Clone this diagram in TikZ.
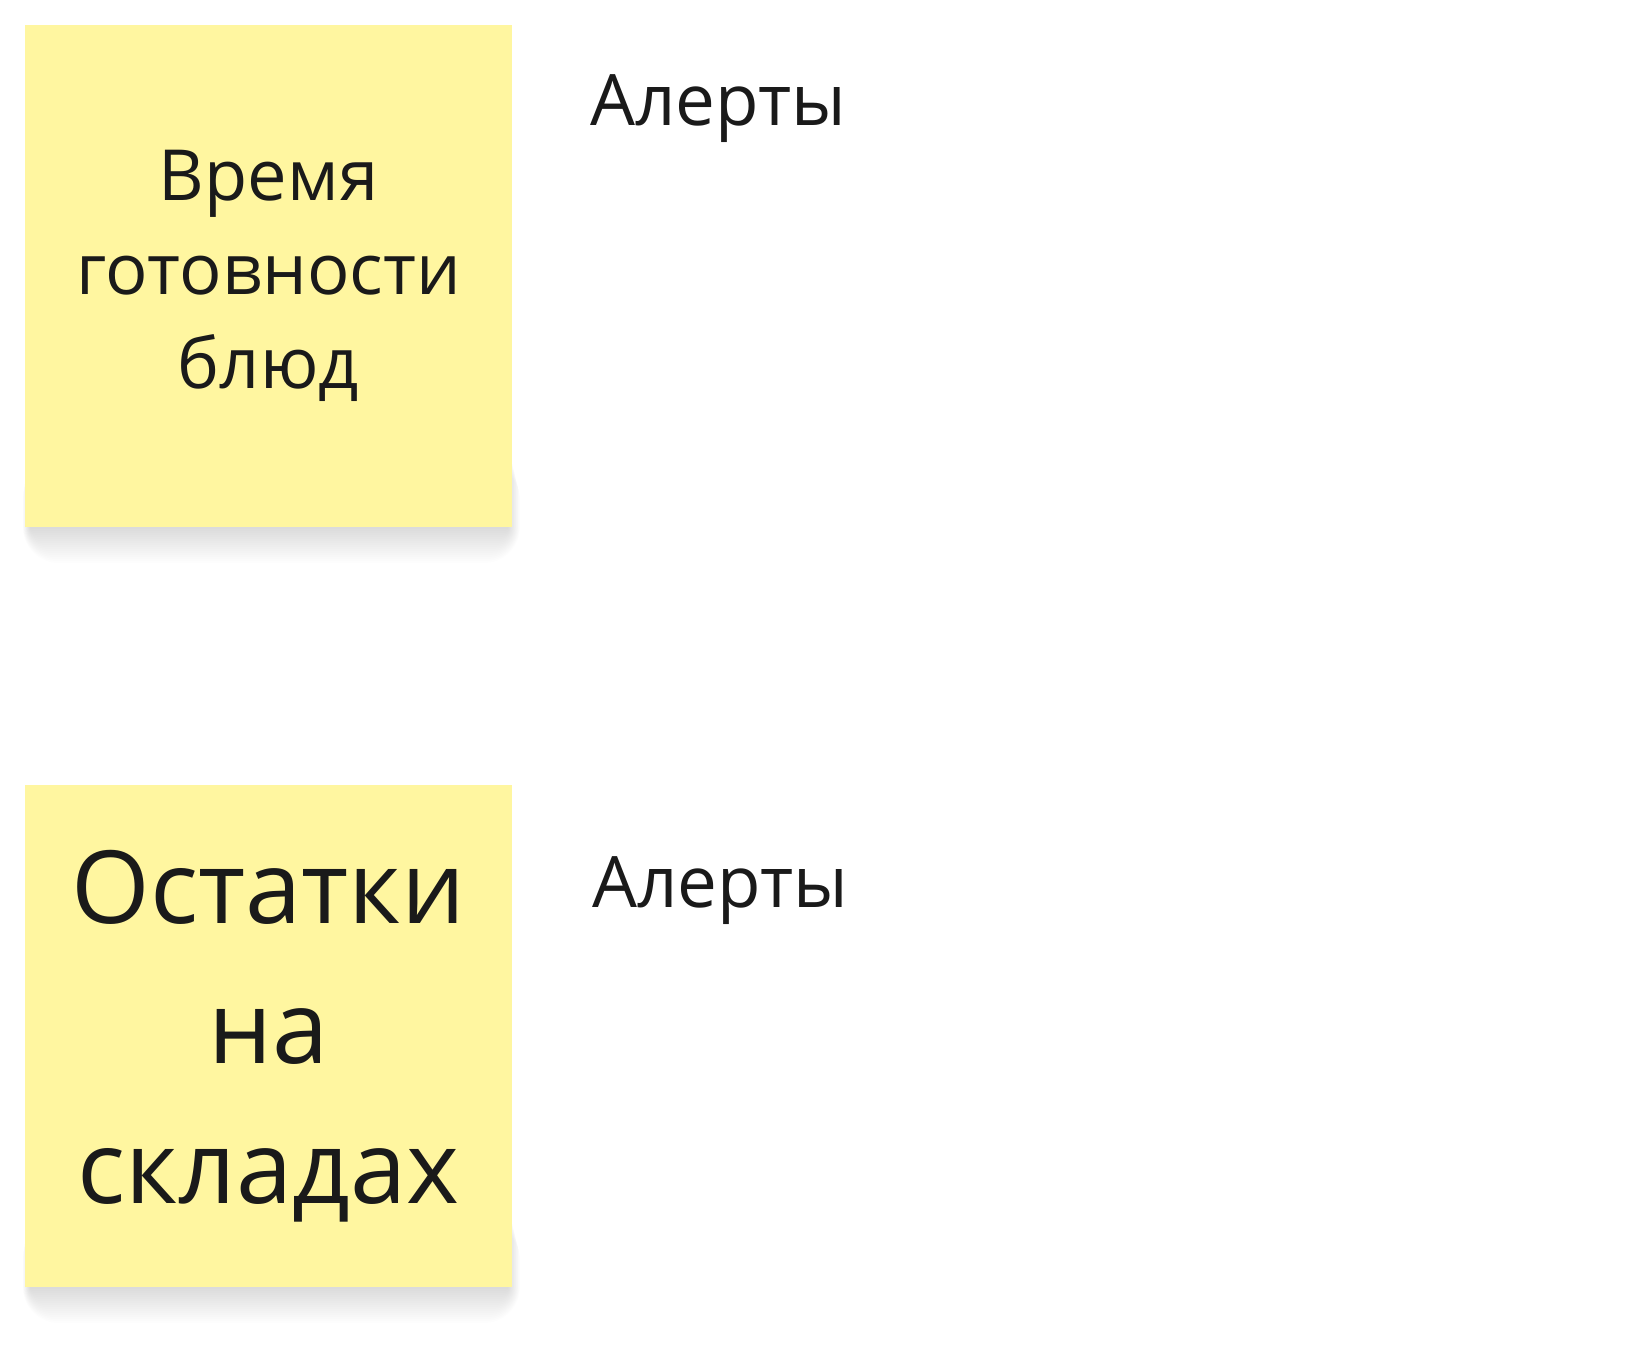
\documentclass[tikz,border=0pt]{standalone}
\usepackage{fontspec}
\setmainfont{Open Sans}
\definecolor{stickyyellow}{RGB}{255,246,160}
\definecolor{inkdark}{RGB}{26,26,26}
\tikzset{
  sticky/.style={rectangle, fill=stickyyellow, minimum width=487pt, minimum height=502pt, inner sep=0pt, align=center, text=inkdark},
  alert/.style={anchor=base west, inner sep=0pt, text=inkdark, font=\fontsize{71}{90}\selectfont},
}
\begin{document}
\begin{tikzpicture}[x=1pt,y=-1pt]
\useasboundingbox[fill=white] (0,0) rectangle (1639,1372);
% soft shadows under the stickies
\foreach \cy in {276,1036}{
  \foreach \g in {2,4,...,36}{
    \fill[black, opacity=0.008, rounded corners=\g pt] (30-\g/5,\cy+170+\g/2) rectangle (508+\g/3,\cy+251+\g);
  }
}
% stickies, center at col, row
\node[sticky, font=\fontsize{70.5}{94}\selectfont] (s1) at (268.5,276) {Время\\готовности\\блюд};
\node[sticky, font=\fontsize{101}{140}\selectfont] (s2) at (268.5,1036) {Остатки\\на\\складах};
% labels to the right
\node[alert] (a1) at (590,126) {Алерты};
\node[alert] (a2) at (592,907) {Алерты};
\end{tikzpicture}
\end{document}
